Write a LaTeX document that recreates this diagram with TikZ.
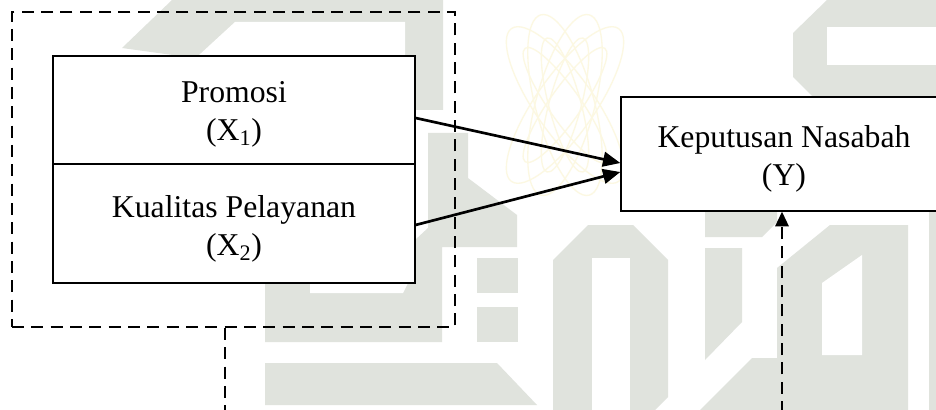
\documentclass[tikz,border=0pt]{standalone}
\usepackage{fontspec}
\setmainfont{Liberation Serif}
\usetikzlibrary{arrows.meta}
\definecolor{wm}{RGB}{224,227,221}
\definecolor{wy}{RGB}{252,248,226}
\begin{document}
\begin{tikzpicture}[x=0.75pt,y=-0.75pt,
  font=\fontsize{23.8}{28.5}\selectfont,
  wmark/.style={fill=wm,draw=none},
  wgap/.style={fill=white,draw=none},
  varbox/.style={draw,line width=1pt,fill=white,inner sep=0pt},
  groupbox/.style={draw,dash pattern=on 9pt off 5.5pt,line width=1.4pt,inner sep=0pt},
  lbl/.style={align=center,inner sep=0pt},
  arr/.style={-{Triangle[length=13pt,width=11pt]},line width=2pt},
  darr/.style={dash pattern=on 9pt off 5.5pt,line width=1.5pt,-{Triangle[length=11pt,width=10pt]}}]
\useasboundingbox (0,0) rectangle (936,410);
\fill[white] (0,0) rectangle (936,410);
% ---- watermark (background) ----
\fill[wmark] (122,48) -- (172,0) -- (443,0) -- (443,110) -- (415,110) -- (415,56) -- (180,56) -- cycle;
\fill[wgap] (235,22) -- (405,22) -- (405,56) -- (198,56) -- cycle;
\fill[wmark] (428,133) -- (468,133) -- (468,178) -- (517,215) -- (517,247) -- (442,247) -- (442,342) -- (265,342) -- (265,283) -- (415,283) -- (415,240) -- (428,228) -- cycle;
\fill[wgap] (310,283) -- (408,283) -- (403,293) -- (310,293) -- cycle;
\fill[wmark] (477,258) rectangle (518,293);
\fill[wmark] (477,307) rectangle (518,342);
\fill[wmark] (265,363) -- (497,363) -- (537,405) -- (265,405) -- cycle;
\fill[wmark] (553,410) -- (553,260) -- (588,225) -- (633,225) -- (668,260) -- (668,397) -- (655,410) -- cycle;
\fill[wgap] (592,258) rectangle (630,410);
\fill[wmark] (705,211) -- (777,211) -- (777,222) -- (762,237) -- (705,237) -- cycle;
\fill[wmark] (705,248) -- (742,248) -- (742,322) -- (705,360) -- cycle;
\fill[wmark] (700,410) -- (752,358) -- (777,358) -- (777,268) -- (830,225) -- (908,225) -- (908,410) -- cycle;
\fill[wgap] (822,283) -- (862,255) -- (862,355) -- (822,355) -- cycle;
\fill[wmark] (929,211) rectangle (936,410);
\fill[wmark] (793,33) -- (827,0) -- (936,0) -- (936,97) -- (813,97) -- (793,77) -- cycle;
\fill[wgap] (827,27) rectangle (936,65);
\begin{scope}[draw=wy,line width=1pt]
  \foreach \a in {-35,-15,15,35}{
    \draw[rotate around={\a:(565,105)}] (565,105) ellipse [x radius=22pt,y radius=70pt];
    \draw[rotate around={\a:(565,105)}] (565,105) ellipse [x radius=12pt,y radius=52pt];
  }
\end{scope}
% ---- diagram ----
\node[groupbox,minimum width=332.25pt,minimum height=236.25pt] (grp) at (233.5,169.5) {};
\node[varbox,minimum width=271.5pt,minimum height=81pt] (bx1) at (234,110) {};
\node[varbox,minimum width=271.5pt,minimum height=89.25pt] (bx2) at (234,223.5) {};
\node[varbox,minimum width=244.5pt,minimum height=85.5pt] (by) at (784,154) {};
\node[lbl,yshift=-3.4pt] (tx1) at (bx1.center) {Promosi\\(X\textsubscript{1})};
\node[lbl,yshift=-3.8pt] (tx2) at (bx2.center) {Kualitas Pelayanan\\(X\textsubscript{2})};
\node[lbl,yshift=-3.8pt] (ty) at (by.center) {Keputusan Nasabah\\(Y)};
\draw[arr] ([yshift=-6pt]bx1.east) -- ([yshift=-6.75pt]by.west);
\draw[arr] ([yshift=-1.1pt]bx2.east) -- ([yshift=-13.5pt]by.west);
\coordinate (d1) at (225,440);
\coordinate (d2) at (782,440);
\draw[darr] (grp.south -| d1) -- (d1) -- (d2) -- (by.south -| d2);
\end{tikzpicture}
\end{document}
